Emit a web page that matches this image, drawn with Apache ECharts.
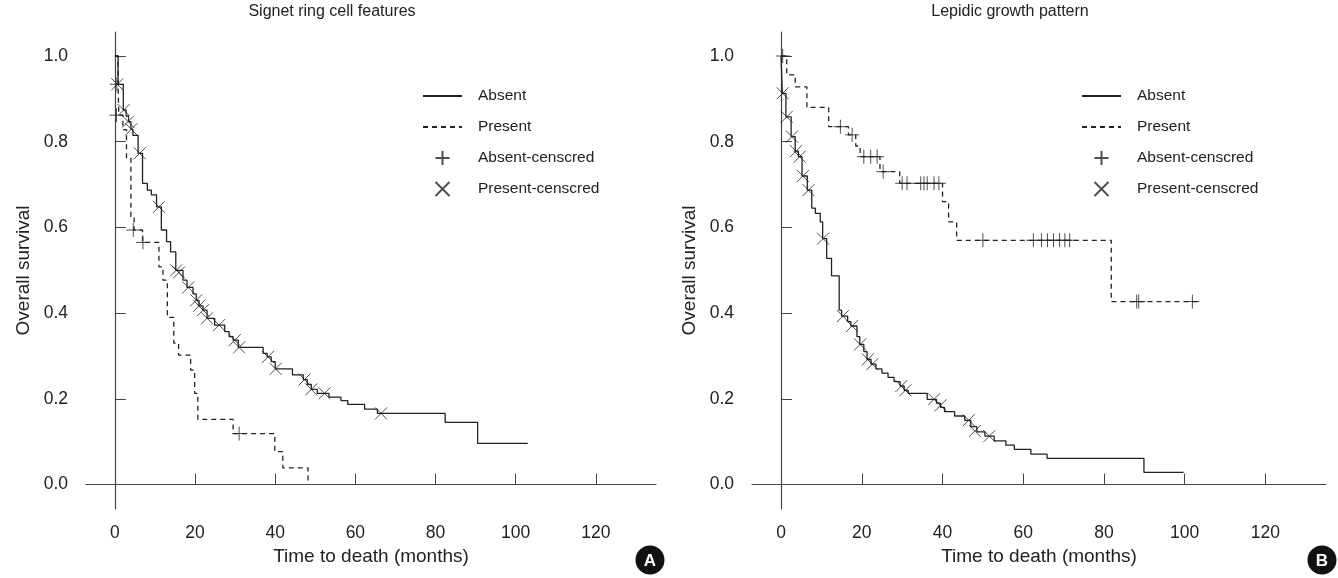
<!DOCTYPE html>
<html>
<head>
<meta charset="utf-8">
<title>Overall survival</title>
<script src="https://cdn.jsdelivr.net/npm/echarts/dist/echarts.min.js"></script>
<style>
    html, body {margin: 0; padding: 0; background: #fff;}
    #main {width: 1338px; height: 578px;}
</style>
</head>
<body>
<div id="main"></div>
<script>
// ticks
var xTicks = [0, 20, 40, 60, 80, 100, 120];
var yTicks = [0, 0.2, 0.4, 0.6, 0.8, 1.0];

// A: signet ring cell features
var absentTimeA = [0, 0.8, 2.1, 2.8, 3.4, 4.0, 4.5, 5.8, 6.9, 8.1, 9.1, 10.4, 11.6, 12.9, 13.9, 15.2, 17.0, 18.0, 19.5, 20.3,
    21.0, 22.0, 23.0, 24.9, 27.4, 28.5, 29.5, 30.8, 37.0, 38.0, 39.0, 40.0, 44.3, 47.0, 48.0, 49.0, 50.5, 53.4, 56.4, 58.1,
    62.3, 65.5, 82.4, 90.5, 103];
var absentSurvA = [1.0, 0.934, 0.874, 0.86, 0.847, 0.829, 0.815, 0.773, 0.703, 0.687, 0.676, 0.648, 0.594, 0.567, 0.543, 0.5, 0.477, 0.46, 0.445, 0.43,
    0.417, 0.407, 0.388, 0.372, 0.357, 0.345, 0.337, 0.32, 0.306, 0.298, 0.287, 0.27, 0.256, 0.245, 0.234, 0.222, 0.213, 0.204, 0.196, 0.187,
    0.176, 0.166, 0.145, 0.096, 0.096];
var presentTimeA = [0, 0.8, 1.0, 2.0, 2.9, 4.0, 4.8, 6.9, 11.0, 12.0, 13.1, 14.7, 15.9, 18.9, 19.9, 20.7, 29.5, 39.9, 41.9, 48.2];
var presentSurvA = [1.0, 0.931, 0.862, 0.828, 0.761, 0.625, 0.594, 0.565, 0.508, 0.477, 0.39, 0.33, 0.302, 0.267, 0.213, 0.152, 0.119, 0.077, 0.039, 0.003];
var plusTimeA = [0.5, 0.4, 4.6, 7.0, 31.0];
var plusSurvA = [0.934, 0.862, 0.594, 0.565, 0.119];
var crossTimeA = [0.6, 2.2, 3.3, 4.1, 6.2, 11.0, 15.3, 16.0, 18.3, 20.3, 21.0, 22.0, 23.0, 26.0, 29.9, 31.0, 38.2, 40.1, 47.3, 49.0, 52.3, 66.4];
var crossSurvA = [0.934, 0.874, 0.847, 0.829, 0.773, 0.648, 0.5, 0.495, 0.46, 0.43, 0.417, 0.407, 0.388, 0.372, 0.337, 0.32, 0.298, 0.27, 0.245, 0.222, 0.213, 0.166];

// B: lepidic growth pattern
var absentTimeB = [0, 0.3, 1.2, 2.5, 3.5, 4.3, 5.2, 6.5, 7.6, 8.5, 9.7, 10.3, 11.3, 12.5, 14.4, 15.0, 16.5, 17.3, 18.8, 19.5,
    20.5, 21.3, 22.3, 23.5, 25.0, 26.5, 28.0, 29.5, 30.5, 31.5, 36.2, 38.5, 39.5, 40.5, 43.0, 45.5, 47.0, 48.5, 50.5, 52.8,
    55.7, 57.8, 61.9, 65.9, 89.9, 99.7];
var absentSurvB = [1.0, 0.913, 0.858, 0.812, 0.778, 0.765, 0.72, 0.687, 0.645, 0.633, 0.613, 0.574, 0.528, 0.487, 0.407, 0.393, 0.38, 0.37, 0.345, 0.327,
    0.31, 0.292, 0.281, 0.27, 0.26, 0.25, 0.24, 0.23, 0.22, 0.213, 0.199, 0.19, 0.18, 0.17, 0.16, 0.15, 0.135, 0.123, 0.113, 0.102,
    0.092, 0.082, 0.071, 0.061, 0.0285, 0.0285];
var presentTimeB = [0, 1.4, 3.5, 6.4, 11.8, 16.7, 18.5, 19.6, 24.5, 29.4, 40.0, 41.5, 43.5, 81.8, 103.8];
var presentSurvB = [1.0, 0.956, 0.928, 0.88, 0.835, 0.816, 0.79, 0.765, 0.73, 0.703, 0.66, 0.613, 0.57, 0.427, 0.427];
var plusTimeB = [0.4, 14.7, 17.6, 20.5, 22.2, 23.8, 25.3, 30.0, 31.2, 34.6, 35.4, 36.2, 37.9, 39.1,
    50.0, 62.5, 64.5, 66.0, 67.5, 69.0, 70.3, 71.5, 88.1, 88.6, 101.9];
var plusSurvB = [1.0, 0.835, 0.816, 0.765, 0.765, 0.765, 0.73, 0.703, 0.703, 0.703, 0.703, 0.703, 0.703, 0.703,
    0.57, 0.57, 0.57, 0.57, 0.57, 0.57, 0.57, 0.57, 0.427, 0.427, 0.427];
var crossTimeB = [0.4, 1.4, 2.7, 3.7, 4.6, 5.4, 6.8, 10.4, 15.3, 17.6, 19.6, 21.5, 22.6, 29.8, 30.8, 37.9, 39.5, 46.5, 48.0, 51.6];
var crossSurvB = [0.913, 0.858, 0.812, 0.778, 0.765, 0.72, 0.687, 0.574, 0.393, 0.37, 0.327, 0.292, 0.281, 0.23, 0.22, 0.199, 0.185, 0.15, 0.125, 0.113];

var FONT = "'Liberation Sans', Arial, sans-serif";
var INK = '#222';
var PLUS = 'path://M0,5L10,5M5,0L5,10';
var CROSS = 'path://M0,0L10,10M10,0L0,10';

function pairs(xs, ys) {
    var out = [];
    for (var i = 0; i < xs.length; i++) {
        out.push([xs[i], ys[i]]);
    }
    return out;
}

function xAxisOf(idx) {
    return {
        gridIndex: idx, type: 'value', min: -7.2, max: 135,
        name: 'Time to death (months)', nameLocation: 'middle', nameGap: 36,
        nameTextStyle: {fontFamily: FONT, fontSize: 19, color: INK},
        axisLine: {lineStyle: {color: '#444', width: 1.2}},
        axisTick: {inside: true, length: 11, customValues: xTicks, lineStyle: {color: '#444'}},
        axisLabel: {customValues: xTicks, margin: 15, fontFamily: FONT, fontSize: 17.5, color: INK},
        splitLine: {show: false}
    };
}

function yAxisOf(idx) {
    return {
        gridIndex: idx, type: 'value', min: -0.057, max: 1.056,
        name: 'Overall survival', nameLocation: 'middle', nameGap: 53,
        nameTextStyle: {fontFamily: FONT, fontSize: 19, color: INK},
        axisLine: {lineStyle: {color: '#444', width: 1.2}},
        axisTick: {inside: true, length: 11, customValues: yTicks, lineStyle: {color: '#444'}},
        axisLabel: {
            customValues: yTicks, margin: 18, fontFamily: FONT, fontSize: 17.5, color: INK,
            formatter: function (v) { return v.toFixed(1); }
        },
        splitLine: {show: false}
    };
}

function panelSeries(idx, absT, absS, preT, preS, plT, plS, crT, crS) {
    return [
        {
            name: 'Absent', type: 'line', xAxisIndex: idx, yAxisIndex: idx, step: 'end',
            symbol: 'none', data: pairs(absT, absS),
            lineStyle: {color: INK, width: 1.3}, itemStyle: {color: INK}
        },
        {
            name: 'Present', type: 'line', xAxisIndex: idx, yAxisIndex: idx, step: 'end',
            symbol: 'none', data: pairs(preT, preS),
            lineStyle: {color: INK, width: 1.3, type: [5, 4]}, itemStyle: {color: INK}
        },
        {
            name: 'Absent-censcred', type: 'scatter', xAxisIndex: idx, yAxisIndex: idx,
            symbol: PLUS, symbolSize: 14, symbolKeepAspect: true, data: pairs(plT, plS),
            itemStyle: {color: 'transparent', borderColor: INK, borderWidth: 1}
        },
        {
            name: 'Present-censcred', type: 'scatter', xAxisIndex: idx, yAxisIndex: idx,
            symbol: CROSS, symbolSize: 12, symbolKeepAspect: true, data: pairs(crT, crS),
            itemStyle: {color: 'transparent', borderColor: INK, borderWidth: 1}
        }
    ];
}

function legendOf(left) {
    return {
        left: left, top: 87, orient: 'vertical', padding: 0,
        itemWidth: 39, itemHeight: 14, itemGap: 13, selectedMode: false,
        // line entries: no dot on the sample line
        data: [
            {name: 'Absent', itemStyle: {opacity: 0}},
            {name: 'Present', itemStyle: {opacity: 0}},
            'Absent-censcred',
            'Present-censcred'
        ],
        textStyle: {fontFamily: FONT, fontSize: 15.5, lineHeight: 18, color: INK, padding: [0, 0, 0, 11]}
    };
}

function badge(cx, letter) {
    return [
        {type: 'circle', shape: {cx: cx, cy: 560, r: 14.5}, style: {fill: '#111'}},
        {
            type: 'text', x: cx, y: 561,
            style: {text: letter, align: 'center', verticalAlign: 'middle', fill: '#fff', font: 'bold 17px ' + FONT}
        }
    ];
}

var myChart = echarts.init(document.getElementById('main'), null, {renderer: 'canvas'});

var option = {
    backgroundColor: '#fff',
    animation: false,
    title: [
        {text: 'Signet ring cell features', left: 332, top: 4, padding: 0, textAlign: 'center',
            textStyle: {fontFamily: FONT, fontSize: 16, fontWeight: 'normal', color: INK}},
        {text: 'Lepidic growth pattern', left: 1010, top: 4, padding: 0, textAlign: 'center',
            textStyle: {fontFamily: FONT, fontSize: 16, fontWeight: 'normal', color: INK}}
    ],
    grid: [
        {left: 86, top: 32, width: 570, height: 477},
        {left: 752, top: 32, width: 574, height: 477}
    ],
    xAxis: [xAxisOf(0), xAxisOf(1)],
    yAxis: [yAxisOf(0), yAxisOf(1)],
    legend: [legendOf(422), legendOf(1081)],
    series: panelSeries(0, absentTimeA, absentSurvA, presentTimeA, presentSurvA, plusTimeA, plusSurvA, crossTimeA, crossSurvA)
        .concat(panelSeries(1, absentTimeB, absentSurvB, presentTimeB, presentSurvB, plusTimeB, plusSurvB, crossTimeB, crossSurvB)),
    graphic: badge(650, 'A').concat(badge(1322, 'B'))
};

myChart.setOption(option);

window.onresize = function () {
    myChart.resize();
};
</script>
</body>
</html>
